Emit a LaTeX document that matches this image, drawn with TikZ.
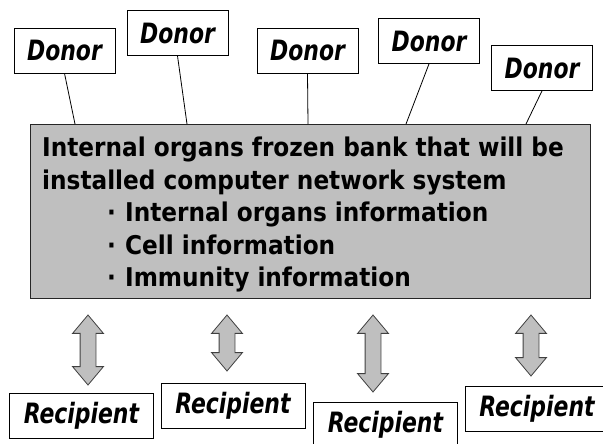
\documentclass[tikz,border=0pt]{standalone}
\usepackage{fontspec}
\setmainfont{DejaVu Sans Condensed}
\newfontfamily\labelfont{DejaVu Sans Condensed}[FakeStretch=0.87]
\usepackage{tikz}
\usetikzlibrary{shapes.arrows}

\begin{document}
\begin{tikzpicture}[
    x=1pt, y=-1pt,
    donor/.style={draw, fill=white, line width=0.8pt, minimum width=101pt, minimum height=45pt, inner sep=0pt, font=\labelfont\fontsize{28}{30}\selectfont\bfseries\itshape},
    recip/.style={draw, fill=white, line width=0.8pt, minimum width=144pt, minimum height=45pt, inner sep=0pt, font=\labelfont\fontsize{28}{30}\selectfont\bfseries\itshape},
    bank/.style={draw=black!85, fill=black!25, line width=1pt, minimum width=560pt, minimum height=174pt},
    updown/.style={double arrow, draw=black!75, fill=black!25, line width=0.8pt, rotate=90, inner sep=7.5pt, double arrow head extend=7.5pt, double arrow tip angle=80, minimum height=#1}
]
\useasboundingbox (0,0) rectangle (603,444);

% bank in the middle
\node[bank] (bank) at (310,211) {};
\node[anchor=north west, inner sep=0pt, align=left, font=\fontsize{25.8}{32.5}\selectfont\bfseries] (banktxt) at (42,137)
    {Internal organs frozen bank that will be\\
     installed computer network system\\
     \hspace*{65pt}\makebox[18pt][l]{·}Internal organs information\\
     \hspace*{65pt}\makebox[18pt][l]{·}Cell information\\
     \hspace*{65pt}\makebox[18pt][l]{·}Immunity information};

% donors
\node[donor] (d1) at (64.5,50.5) {Donor};
\node[donor] (d2) at (177.5,33) {Donor};
\node[donor] (d3) at (307.5,50.5) {Donor};
\node[donor] (d4) at (429,41) {Donor};
\node[donor] (d5) at (542,68) {Donor};

\coordinate (t1) at (75,124);
\coordinate (t2) at (187,124);
\coordinate (t3) at (308,124);
\coordinate (t4) at (406,124);
\coordinate (t5) at (526,124);

\foreach \i in {1,...,5}
    \draw[line width=0.8pt] (d\i.south) -- (t\i);

% recipients
\node[recip] (r1) at (81.5,415.5) {Recipient};
\node[recip] (r2) at (233,405.5) {Recipient};
\node[recip] (r3) at (385.5,424.5) {Recipient};
\node[recip] (r4) at (537,408.5) {Recipient};

\node[updown=70pt] (a1) at (88,350) {};
\node[updown=56pt] (a2) at (227,343) {};
\node[updown=77pt] (a3) at (373,353.5) {};
\node[updown=61pt] (a4) at (531,345.5) {};
\end{tikzpicture}
\end{document}
